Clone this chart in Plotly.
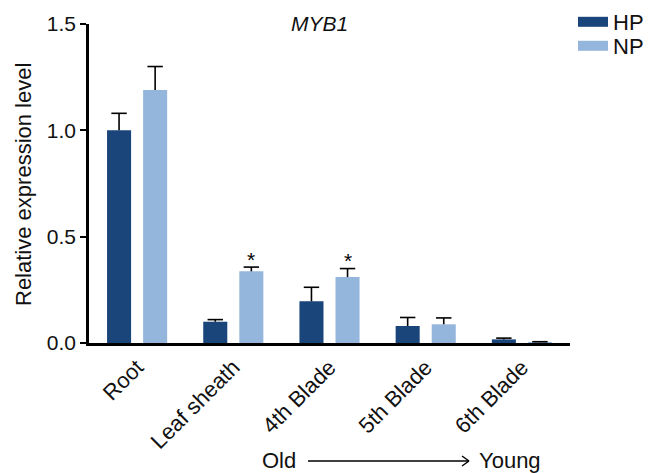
import plotly.graph_objects as go

# ---- data ----
categories = ["Root", "Leaf sheath", "4th Blade", "5th Blade", "6th Blade"]
hp_values = [1.00, 0.10, 0.196, 0.080, 0.017]
hp_errors = [0.08, 0.010, 0.066, 0.040, 0.006]
np_values = [1.19, 0.337, 0.310, 0.088, 0.004]
np_errors = [0.11, 0.020, 0.040, 0.030, 0.002]
np_significant = [False, True, True, False, False]
y_ticks = [0.0, 0.5, 1.0, 1.5]

# ---- styling ----
HP_COLOR = "#19457A"
NP_COLOR = "#95B6DC"
FONT = "Arial, Liberation Sans, sans-serif"
PAGE_OFF = 8  # browser body margin
W, H = 653 - PAGE_OFF, 473 - PAGE_OFF
ML, MR, MT, MB = 89 - PAGE_OFF, 83, 24 - PAGE_OFF, 130
PW, PH = W - ML - MR, H - MT - MB
OFF = 0.1875
BW = 0.25

def px_x(p):
    return (p - PAGE_OFF - ML) / PW

def px_y(p):
    return (H - MB - (p - PAGE_OFF)) / PH

idx = list(range(len(categories)))
hp_x = [i - OFF for i in idx]
np_x = [i + OFF for i in idx]

fig = go.Figure()

fig.add_trace(go.Bar(x=hp_x, y=hp_values, width=BW, marker=dict(color=HP_COLOR, line=dict(width=0)),
                     showlegend=False, name="HP"))
fig.add_trace(go.Bar(x=np_x, y=np_values, width=BW, marker=dict(color=NP_COLOR, line=dict(width=0)),
                     showlegend=False, name="NP"))

# error bars (upper only)
def err_traces(xs, vals, errs):
    sx, sy = [], []
    for x, v, e in zip(xs, vals, errs):
        sx += [x, x, None]
        sy += [v, v + e, None]
    fig.add_trace(go.Scatter(x=sx, y=sy, mode="lines", line=dict(color="black", width=1.6),
                             showlegend=False, hoverinfo="skip"))
    fig.add_trace(go.Scatter(x=xs, y=[v + e for v, e in zip(vals, errs)], mode="markers",
                             marker=dict(symbol="line-ew", size=11, line=dict(color="black", width=1.6)),
                             showlegend=False, hoverinfo="skip"))

err_traces(hp_x, hp_values, hp_errors)
err_traces(np_x, np_values, np_errors)

# legend entries (two single-item legends for exact spacing)
fig.add_trace(go.Scatter(x=[None], y=[None], mode="lines", name="HP",
                         line=dict(color=HP_COLOR, width=11), legend="legend"))
fig.add_trace(go.Scatter(x=[None], y=[None], mode="lines", name="NP",
                         line=dict(color=NP_COLOR, width=11), legend="legend2"))

leg_common = dict(xanchor="left", yanchor="middle", font=dict(size=22, color="#111111"),
                  bgcolor="rgba(0,0,0,0)", itemwidth=30)
fig.update_layout(
    width=W, height=H,
    margin=dict(l=ML, r=MR, t=MT, b=MB, autoexpand=False),
    plot_bgcolor="white", paper_bgcolor="white",
    barmode="overlay",
    font=dict(family=FONT, size=21, color="#111111"),
    showlegend=True,
    legend=dict(x=px_x(573), y=px_y(22), **leg_common),
    legend2=dict(x=px_x(573), y=px_y(46), **leg_common),
)

fig.update_xaxes(
    range=[-0.5, 4.5], tickmode="array", tickvals=idx, ticktext=categories,
    tickangle=-45, showline=True, linecolor="black", linewidth=2.6,
    ticks="", showgrid=False, zeroline=False, tickfont=dict(size=22), automargin=False,
)
fig.update_yaxes(
    range=[0, 1.5], tickmode="array", tickvals=y_ticks, ticktext=[f"{t:.1f}" for t in y_ticks],
    showline=True, linecolor="black", linewidth=2.6, ticks="outside", ticklen=6, tickwidth=2.4,
    tickcolor="black", showgrid=False, zeroline=False, tickfont=dict(size=21), automargin=False,
)

annotations = [
    dict(text="Relative expression level", textangle=-90, x=px_x(23), y=px_y(185),
         xref="paper", yref="paper", showarrow=False, font=dict(size=22),
         xanchor="center", yanchor="middle"),
    dict(text="<i>MYB1</i>", x=px_x(319), y=px_y(23), xref="paper", yref="paper",
         showarrow=False, font=dict(size=21, color="#111111"), xanchor="center", yanchor="middle"),
    dict(text="Old", x=px_x(279), y=px_y(460), xref="paper", yref="paper",
         showarrow=False, font=dict(size=22), xanchor="center", yanchor="middle", borderpad=0),
    dict(text="Young", x=px_x(510), y=px_y(460), xref="paper", yref="paper",
         showarrow=False, font=dict(size=22), xanchor="center", yanchor="middle", borderpad=0),
]
# significance stars above the NP error bars
for x, v, e, s in zip(np_x, np_values, np_errors, np_significant):
    if s:
        annotations.append(dict(text="*", x=x, y=v + e, xref="x", yref="y", showarrow=False,
                                font=dict(size=21, color="black"), xanchor="center",
                                yanchor="middle", yshift=8))
fig.update_layout(annotations=annotations)

ay = px_y(461)
shapes = [
    dict(type="line", xref="paper", yref="paper", x0=px_x(308), x1=px_x(469), y0=ay, y1=ay,
         line=dict(color="black", width=1.5)),
    dict(type="line", xref="paper", yref="paper", x0=px_x(462), x1=px_x(469), y0=px_y(456), y1=ay,
         line=dict(color="black", width=1.5)),
    dict(type="line", xref="paper", yref="paper", x0=px_x(462), x1=px_x(469), y0=px_y(466), y1=ay,
         line=dict(color="black", width=1.5)),
]
fig.update_layout(shapes=shapes)

fig.write_html("out.html")
